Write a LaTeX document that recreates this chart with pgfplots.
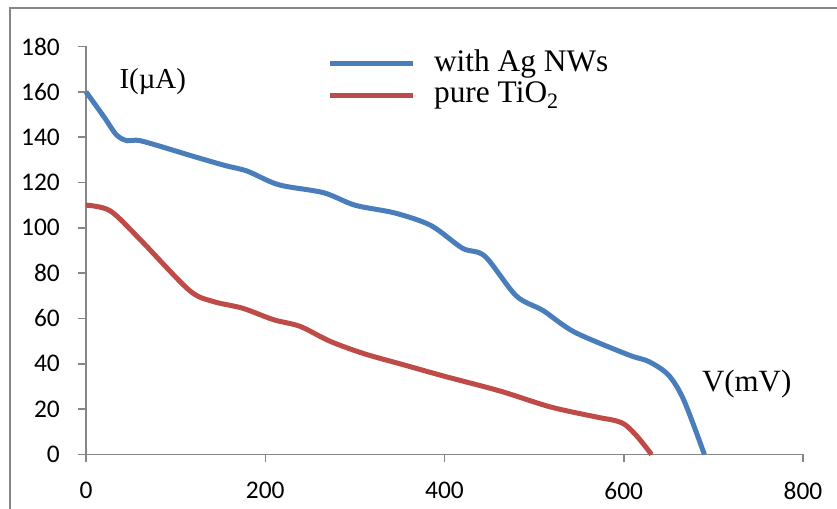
\documentclass[border=0pt]{standalone}
\usepackage{pgfplots}
\pgfplotsset{compat=1.18}
\usepackage{fontspec}
\setmainfont{Liberation Serif}
\newfontfamily\calibri{Carlito}
\definecolor{sblue}{HTML}{4A7EBB}
\definecolor{sred}{HTML}{BE4B48}
\definecolor{axgray}{HTML}{868686}
\begin{document}
\begin{tikzpicture}[x=1bp,y=1bp]
\path[use as bounding box] (0,0) rectangle (837,509);
\draw[axgray, line width=1.5bp] (10,0) -- (10,501) -- (837,501);
\begin{axis}[
  at={(86bp,54.5bp)}, anchor=south west,
  scale only axis, width=717bp, height=408bp,
  xmin=0, xmax=800, ymin=0, ymax=180,
  axis x line=bottom, axis y line=left,
  x axis line style={-}, y axis line style={-},
  axis line style={axgray, line width=1.5bp},
  xtick={0,200,...,800}, ytick={0,20,...,180},
  tick align=outside, major tick length=8bp,
  tick style={axgray, line width=1.5bp},
  ticklabel style={font=\calibri\fontsize{25.5}{25.5}\selectfont, inner sep=0pt},
  /pgf/number format/assume math mode=true,
  xticklabel style={yshift=-19.5bp},
  yticklabel style={xshift=-18bp},
  clip=false,
  legend style={at={(axis cs:269,179.6)}, anchor=north west, draw=none, fill=none,
    inner sep=0pt, outer sep=0pt, column sep=17bp, row sep=5.5bp,
    font=\fontsize{31.5}{31.5}\selectfont, cells={anchor=base west}},
  legend cell align=left,
  legend image code/.code={\draw[#1] (0bp,-2.2bp) -- (83bp,-2.2bp);},
]
\addplot[sblue, line width=5bp, smooth, line join=round] coordinates {
(0,160) (20,149) (34,141) (46,138.4) (62,138.3) (120,131.5) (155,127.5) (180,125) (215,119)
(265,115.5) (300,110) (345,106.5) (385,101) (420,91) (445,87.5) (480,70)
(510,63.5) (545,54) (605,44) (628,41) (650,35) (667,24) (690,0)};
\addlegendentry{with Ag NWs}
\addplot[sred, line width=5bp, smooth, line join=round] coordinates {
(0,110) (27,107.5) (60,95) (115,72.5) (142,67.5) (175,64.5) (209,59.5)
(239,56.5) (272,50) (310,44.5) (355,39.5) (400,34.5) (462,28) (518,21)
(570,16.5) (590,15) (602,13) (616,7.5) (631,0)};
\addlegendentry{pure TiO\textsubscript{2}}
\node[anchor=base west, inner sep=0pt, font=\fontsize{29}{29}\selectfont] at (axis cs:37.2,161.5) {I(µA)};
\node[anchor=base west, inner sep=0pt, font=\fontsize{31}{31}\selectfont] at (axis cs:687.2,27.7) {V(mV)};
\end{axis}
\end{tikzpicture}
\end{document}
